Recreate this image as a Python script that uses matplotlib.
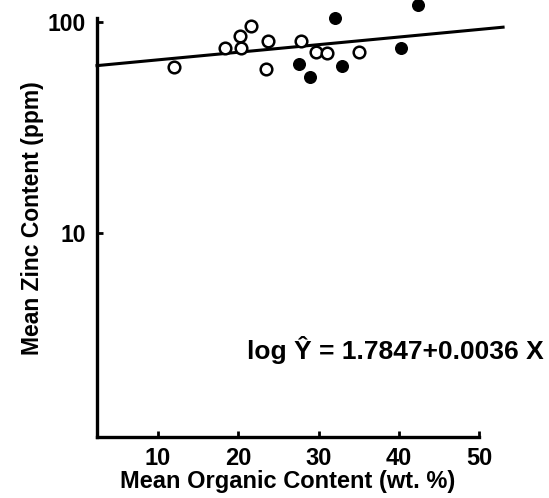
import numpy as np
import matplotlib
matplotlib.use("Agg")
import matplotlib.pyplot as plt

plt.rcParams.update({
    "font.family": ["Liberation Sans", "DejaVu Sans"],
    "font.weight": "bold",
    "axes.linewidth": 2.4,
})

# open circles
open_x = [12.0, 18.35, 20.2, 20.4, 21.6, 23.7, 23.5, 27.8, 29.7, 31.1, 35.0]
open_y = [61.4, 75.0, 85.9, 75.5, 95.7, 81.0, 59.7, 81.4, 72.1, 71.1, 72.1]

# filled circles
fill_x = [27.6, 29.0, 32.1, 32.9, 40.3, 42.4]
fill_y = [63.0, 55.1, 105.0, 62.1, 75.5, 120.0]

# regression: log Y = a + b X
A_COEF = 1.7847
B_COEF = 0.0036
LINE_X = [2.4, 53.0]

X_TICKS = [10, 20, 30, 40, 50]
Y_TICKS = [10, 100]

fig = plt.figure(figsize=(5.49, 4.98), dpi=100)
ax = fig.add_axes([0.1767, 0.1225, 0.6958, 0.8414])

lx = np.array(LINE_X)
ax.plot(lx, 10 ** (A_COEF + B_COEF * lx), color="black", lw=2.2,
        clip_on=False, zorder=2)

ax.scatter(open_x, open_y, s=70, facecolor="white", edgecolor="black",
           linewidth=1.8, zorder=3, clip_on=False)
ax.scatter(fill_x, fill_y, s=70, facecolor="black", edgecolor="black",
           linewidth=1.0, zorder=3, clip_on=False)

ax.set_yscale("log")
ax.set_xlim(2.4, 50)
ax.set_ylim(1.08, 104.5)

ax.set_xticks(X_TICKS)
ax.set_xticklabels([str(t) for t in X_TICKS])
ax.set_yticks(Y_TICKS)
ax.set_yticklabels([str(t) for t in Y_TICKS])
ax.yaxis.set_minor_locator(matplotlib.ticker.NullLocator())

ax.tick_params(direction="in", length=4, width=2, labelsize=17, pad=7)
ax.tick_params(axis="y", labelsize=16.5, pad=8)
ax.spines["top"].set_visible(False)
ax.spines["right"].set_visible(False)

ax.set_xlabel("Mean Organic Content (wt. %)", fontsize=17,
              fontweight="bold", labelpad=0)
ax.set_ylabel("Mean Zinc Content (ppm)", fontsize=16.5, fontweight="bold")
ax.yaxis.set_label_coords(-0.14, 0.523)

ax.text(0.393, 0.208, "log Ŷ = 1.7847+0.0036 X", transform=ax.transAxes,
        fontsize=19, fontweight="bold", ha="left", va="center")

fig.savefig("out.png", dpi=100)
